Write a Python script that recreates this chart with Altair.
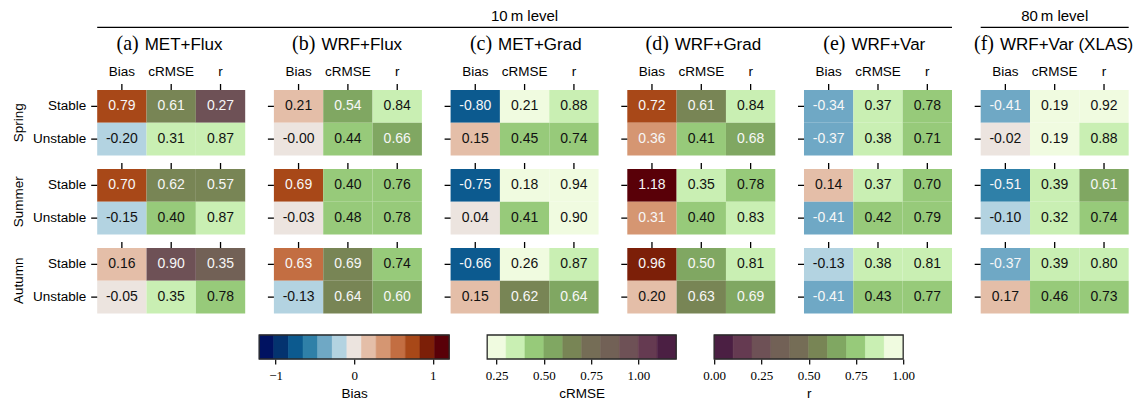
import altair as alt
import pandas as pd

# ---------------- data ----------------
PANELS = ["(a)", "(b)", "(c)", "(d)", "(e)", "(f)"]
PANEL_NAMES = ["MET+Flux", "WRF+Flux", "MET+Grad", "WRF+Grad", "WRF+Var", "WRF+Var (XLAS)"]
SEASONS = ["Spring", "Summer", "Autumn"]
STABILITY = ["Stable", "Unstable"]
METRICS = ["Bias", "cRMSE", "r"]

# order inside each panel: Spring-Stable, Spring-Unstable, Summer-Stable,
# Summer-Unstable, Autumn-Stable, Autumn-Unstable
BIAS = [
    [0.79, -0.20, 0.70, -0.15, 0.16, -0.05],
    [0.21, -0.00, 0.69, -0.03, 0.63, -0.13],
    [-0.80, 0.15, -0.75, 0.04, -0.66, 0.15],
    [0.72, 0.36, 1.18, 0.31, 0.96, 0.20],
    [-0.34, -0.37, 0.14, -0.41, -0.13, -0.41],
    [-0.41, -0.02, -0.51, -0.10, -0.37, 0.17],
]
CRMSE = [
    [0.61, 0.31, 0.62, 0.40, 0.90, 0.35],
    [0.54, 0.44, 0.40, 0.48, 0.69, 0.64],
    [0.21, 0.45, 0.18, 0.41, 0.26, 0.62],
    [0.61, 0.41, 0.35, 0.40, 0.50, 0.63],
    [0.37, 0.38, 0.37, 0.42, 0.38, 0.43],
    [0.19, 0.19, 0.39, 0.32, 0.39, 0.46],
]
R = [
    [0.27, 0.87, 0.57, 0.87, 0.35, 0.78],
    [0.84, 0.66, 0.76, 0.78, 0.74, 0.60],
    [0.88, 0.74, 0.94, 0.90, 0.87, 0.64],
    [0.84, 0.68, 0.78, 0.83, 0.81, 0.69],
    [0.78, 0.71, 0.70, 0.79, 0.81, 0.77],
    [0.92, 0.88, 0.61, 0.74, 0.80, 0.73],
]

LEVEL_LABELS = ["10\u2009m level", "80\u2009m level"]
LEVEL_FIRST = ["(a)", "(f)"]
LEVEL_LAST = ["(e)", "(f)"]
LEVEL_MID = ["(c)", "(f)"]

BIAS_COLORS = ["#001261", "#04336f", "#0c5a8f", "#2f80a8", "#6fa8c5", "#b3d3e1",
               "#ece4df", "#e4bea8", "#d59672", "#c36e42", "#a84818", "#7c1f08", "#590008"]
CRMSE_COLORS = ["#f0fbe0", "#c9efb3", "#97ca7a", "#80a762", "#788555",
                "#756d56", "#726156", "#6e5156", "#653a51", "#4b1f43"]
R_COLORS = CRMSE_COLORS[::-1]
BIAS_LIMITS = [-1.21, 1.21]
CRMSE_LIMITS = [0.2, 1.2]
R_LIMITS = [0.0, 1.0]
BIAS_TICKS = [-1, 0, 1]
CRMSE_TICKS = [0.25, 0.5, 0.75, 1.0]
R_TICKS = [0.0, 0.25, 0.5, 0.75, 1.0]

# ---------------- style ----------------
SANS = "Liberation Sans"
SERIF = "Liberation Serif"
W_PANEL, GAP_X = 148, 28.7
H_BLOCK, GAP_Y = 65.5, 13.5
GRID_W = len(PANELS) * W_PANEL + (len(PANELS) - 1) * GAP_X
GRID_H = len(SEASONS) * H_BLOCK + (len(SEASONS) - 1) * GAP_Y

# ---------------- tables ----------------
rows = []
for pi, p in enumerate(PANELS):
    for k in range(6):
        for m, arr in zip(METRICS, [BIAS, CRMSE, R]):
            v = arr[pi][k]
            rows.append(dict(panel=p, season=SEASONS[k // 2], stability=STABILITY[k % 2],
                             metric=m, value=v, label=f"{v:.2f}"))
cells = pd.DataFrame(rows)
titles = pd.DataFrame(dict(panel=PANELS, name=PANEL_NAMES, season=["Spring"] * len(PANELS)))
header = pd.DataFrame(dict(label=LEVEL_LABELS, first=LEVEL_FIRST, last=LEVEL_LAST,
                           mid=LEVEL_MID, season=["Spring"] * 2))

x_scale = alt.Scale(domain=PANELS, paddingInner=GAP_X / (W_PANEL + GAP_X), paddingOuter=0)
y_scale = alt.Scale(domain=SEASONS, paddingInner=GAP_Y / (H_BLOCK + GAP_Y), paddingOuter=0)
xo_scale = alt.Scale(domain=METRICS, paddingInner=0, paddingOuter=0)
yo_scale = alt.Scale(domain=STABILITY, paddingInner=0, paddingOuter=0)


def X(field="panel:N", **kw):
    return alt.X(field, scale=x_scale, axis=None, **kw)


def Y(field="season:N", **kw):
    return alt.Y(field, scale=y_scale, axis=None, **kw)


XO = alt.XOffset("metric:N", scale=xo_scale)
YO = alt.YOffset("stability:N", scale=yo_scale)

SPECS = {
    "Bias": (BIAS_LIMITS, BIAS_COLORS),
    "cRMSE": (CRMSE_LIMITS, CRMSE_COLORS),
    "r": (R_LIMITS, R_COLORS),
}


def cscale(metric):
    lim, cols = SPECS[metric]
    return alt.Scale(type="quantize", domain=lim, range=cols)


layers = []
for m in METRICS:
    layers.append(
        alt.Chart(cells[cells.metric == m]).mark_rect().encode(
            x=X(), xOffset=XO, y=Y(), yOffset=YO,
            color=alt.Color("value:Q", scale=cscale(m), legend=None),
        )
    )

DARK = ("(datum.metric == 'Bias' && abs(datum.value) > 0.28) || "
        "(datum.metric == 'cRMSE' && datum.value >= 0.5) || "
        "(datum.metric == 'r' && datum.value < 0.7)")
layers.append(
    alt.Chart(cells).mark_text(font=SANS, fontSize=14, baseline="middle").encode(
        x=X(), xOffset=XO, y=Y(), yOffset=YO, text="label:N",
        color=alt.condition(DARK, alt.value("#f7f7f7"), alt.value("#111111")),
    )
)
# ticks on top of each block
layers.append(
    alt.Chart(cells[cells.stability == "Stable"]).mark_rule(
        strokeWidth=1.3, yOffset=-6, color="black"
    ).encode(x=X(), xOffset=XO, y=Y(bandPosition=0), y2=alt.Y2("season:N", bandPosition=0))
)
# ticks left of each row
layers.append(
    alt.Chart(cells[cells.metric == "Bias"]).mark_rule(
        strokeWidth=1.3, xOffset=-6, color="black"
    ).encode(x=X(bandPosition=0), x2=alt.X2("panel:N", bandPosition=0), y=Y(), yOffset=YO)
)
# column labels
layers.append(
    alt.Chart(cells[(cells.season == "Spring") & (cells.stability == "Stable")]).mark_text(
        font=SANS, fontSize=13.5, baseline="alphabetic", dy=-14, color="black"
    ).encode(x=X(), xOffset=XO, y=Y(bandPosition=0), text="metric:N")
)
# row labels
layers.append(
    alt.Chart(cells[(cells.panel == "(a)") & (cells.metric == "Bias")]).mark_text(
        font=SANS, fontSize=13.5, align="right", baseline="middle", dx=-11, color="black"
    ).encode(x=X(bandPosition=0), y=Y(), yOffset=YO, text="stability:N")
)
# season labels
layers.append(
    alt.Chart(cells[(cells.panel == "(a)") & (cells.metric == "Bias") & (cells.stability == "Stable")]).mark_text(
        font=SANS, fontSize=13.5, angle=270, align="center", baseline="alphabetic", dy=-74, color="black"
    ).encode(x=X(bandPosition=0), y=Y(), text="season:N")
)
# panel titles
for sel, dl, dn in [(titles.panel != "(f)", 41.5, 47.5), (titles.panel == "(f)", 13.3, 19.3)]:
    sub = titles[sel]
    layers.append(
        alt.Chart(sub).mark_text(font=SERIF, fontSize=20, align="right", baseline="alphabetic",
                                 dx=dl, dy=-40.3, color="black")
        .encode(x=X(bandPosition=0), y=Y(bandPosition=0), text="panel:N")
    )
    layers.append(
        alt.Chart(sub).mark_text(font=SANS, fontSize=17, align="left", baseline="alphabetic",
                                 dx=dn, dy=-40.3, color="black")
        .encode(x=X(bandPosition=0), y=Y(bandPosition=0), text="name:N")
    )
# level headers
layers.append(
    alt.Chart(header).mark_rule(color="black", strokeWidth=1.2, yOffset=-62.6).encode(
        x=X("first:N", bandPosition=0), x2=alt.X2("last:N", bandPosition=1), y=Y(bandPosition=0)
    )
)
layers.append(
    alt.Chart(header).mark_text(font=SANS, fontSize=15, baseline="alphabetic", dy=-69.3, color="black").encode(
        x=X("mid:N"), y=Y(bandPosition=0), text="label:N"
    )
)

grid = alt.layer(*layers).resolve_scale(color="independent").properties(width=GRID_W, height=GRID_H)


# ---------------- colorbars ----------------
def colorbar(metric, ticks, fmt, width):
    lim, cols = SPECS[metric]
    n = len(cols)
    step = (lim[1] - lim[0]) / n
    bins = pd.DataFrame(dict(
        x0=[lim[0] + i * step for i in range(n)],
        x1=[lim[0] + (i + 1) * step for i in range(n)],
        mid=[lim[0] + (i + 0.5) * step for i in range(n)],
    ))
    xs = alt.Scale(domain=lim, nice=False, zero=False)
    ax = alt.Axis(values=ticks, format=fmt, orient="bottom", domain=False, grid=False,
                  tickSize=5, tickWidth=1.2, tickColor="black", labelFont=SERIF,
                  labelFontSize=13, labelColor="black", labelPadding=6, labelFlush=False,
                  labelOverlap=False, title=metric, titleFont=SANS, titleFontSize=13.5,
                  titleFontWeight="normal", titleColor="black", titlePadding=4)
    fill = alt.Chart(bins).mark_rect(strokeWidth=0.6).encode(
        x=alt.X("x0:Q", scale=xs, axis=ax), x2="x1:Q",
        color=alt.Color("mid:Q", scale=cscale(metric), legend=None),
        stroke=alt.Stroke("mid:Q", scale=cscale(metric), legend=None),
    )
    frame = alt.Chart(pd.DataFrame(dict(lo=[lim[0]], hi=[lim[1]]))).mark_rect(
        filled=False, color="#2b2b2b", strokeWidth=1.3
    ).encode(x=alt.X("lo:Q", scale=xs, axis=ax), x2="hi:Q")
    return alt.layer(fill, frame).properties(width=width, height=24)


spacer = alt.Chart(pd.DataFrame(dict(a=[0.0], b=[1.0]))).mark_rect(opacity=0).encode(
    x=alt.X("a:Q", axis=None, scale=alt.Scale(domain=[0, 1])), x2="b:Q"
).properties(width=124, height=24)

cbar_row = alt.hconcat(
    spacer,
    colorbar("Bias", BIAS_TICKS, "d", 190),
    colorbar("cRMSE", CRMSE_TICKS, ".2f", 189),
    colorbar("r", R_TICKS, ".2f", 189),
    spacing=38, bounds="flush",
).resolve_scale(color="independent", stroke="independent", x="independent")

chart = alt.vconcat(grid, cbar_row, spacing=20).resolve_scale(
    color="independent", stroke="independent"
).properties(
    padding={"left": 12.2, "top": 8, "right": 2, "bottom": 2}
).configure_view(strokeWidth=0)

chart.save("out.html", embed_options={"renderer": "svg", "actions": False})
